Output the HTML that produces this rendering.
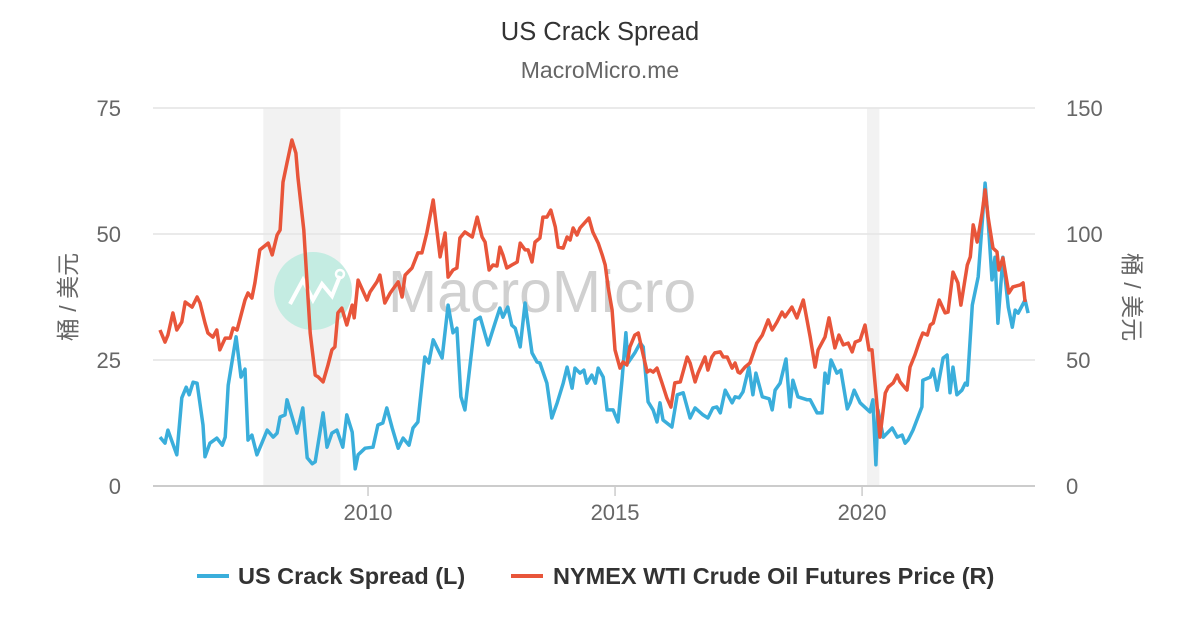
<!DOCTYPE html>
<html><head><meta charset="utf-8">
<style>
html,body{margin:0;padding:0;background:#fff;}
svg{display:block;font-family:"Liberation Sans","Noto Sans CJK SC",sans-serif;}
</style></head>
<body>
<svg id="chart" width="1200" height="630" viewBox="0 0 1200 630">
<rect x="0" y="0" width="1200" height="630" fill="#fff"/>
<text x="600" y="40" text-anchor="middle" font-size="25.5" fill="#333">US Crack Spread</text>
<text x="600" y="78" text-anchor="middle" font-size="23" fill="#666">MacroMicro.me</text>
<g id="bands"></g>
<g id="grid"></g>
<g opacity="1">
<circle cx="313" cy="291" r="39" fill="#c4ece2"/>
<path d="M290 304 L303 280 L313 300 L322 284 L332 296 L340 276" stroke="#fff" stroke-width="4" fill="none"/>
<circle cx="340" cy="274" r="4" fill="none" stroke="#fff" stroke-width="2.5"/>
<text x="388" y="312" font-size="59" fill="#d0d0d0">MacroMicro</text>
</g>
<g id="series"></g>
<g id="axes"></g>
<text transform="translate(76,297) rotate(-90)" text-anchor="middle" font-size="23" fill="#666">桶 / 美元</text>
<text transform="translate(1124,297) rotate(90)" text-anchor="middle" font-size="23" fill="#666">桶 / 美元</text>
<g>
<g>
<line x1="197" y1="576" x2="229" y2="576" stroke="#3aaedb" stroke-width="4"/>
<text x="238" y="584" font-size="23.5" font-weight="bold" fill="#333">US Crack Spread (L)</text>
</g>
<g>
<line x1="511" y1="576" x2="543" y2="576" stroke="#e8553a" stroke-width="4"/>
<text x="553" y="584" font-size="23.5" font-weight="bold" fill="#333">NYMEX WTI Crude Oil Futures Price (R)</text>
</g>
</g>
</svg>
<script>
const leftTicks=[0,25,50,75];
const rightTicks=[0,50,100,150];
const xTicks=[2010,2015,2020];
const recessionStarts=[2007.88,2020.1];
const recessionEnds=[2009.44,2020.35];
const crackYears=[2005.79,2005.89,2005.95,2006.13,2006.23,2006.32,2006.38,2006.46,2006.54,2006.66,2006.70,2006.80,2006.94,2007.05,2007.11,2007.17,2007.33,2007.43,2007.51,2007.57,2007.65,2007.75,2007.85,2007.96,2008.08,2008.16,2008.22,2008.32,2008.36,2008.56,2008.68,2008.77,2008.87,2008.93,2009.09,2009.17,2009.27,2009.37,2009.49,2009.57,2009.68,2009.74,2009.80,2009.94,2010.10,2010.20,2010.30,2010.38,2010.49,2010.61,2010.71,2010.83,2010.91,2011.01,2011.15,2011.23,2011.32,2011.50,2011.62,2011.72,2011.80,2011.88,2011.96,2012.17,2012.27,2012.43,2012.57,2012.67,2012.73,2012.83,2012.91,2012.98,2013.08,2013.18,2013.32,2013.42,2013.48,2013.62,2013.72,2013.83,2013.95,2014.03,2014.13,2014.19,2014.29,2014.37,2014.43,2014.53,2014.60,2014.66,2014.76,2014.84,2014.96,2015.06,2015.14,2015.22,2015.26,2015.40,2015.51,2015.57,2015.67,2015.77,2015.85,2015.91,2015.97,2016.15,2016.26,2016.38,2016.52,2016.62,2016.78,2016.88,2016.98,2017.06,2017.13,2017.23,2017.37,2017.43,2017.51,2017.59,2017.71,2017.79,2017.85,2017.98,2018.12,2018.18,2018.24,2018.34,2018.46,2018.54,2018.60,2018.70,2018.89,2018.95,2019.09,2019.19,2019.25,2019.31,2019.37,2019.49,2019.57,2019.70,2019.76,2019.84,2019.96,2020.16,2020.22,2020.28,2020.32,2020.43,2020.61,2020.71,2020.81,2020.87,2020.93,2021.03,2021.21,2021.23,2021.38,2021.44,2021.52,2021.64,2021.72,2021.78,2021.84,2021.92,2022.02,2022.09,2022.13,2022.23,2022.35,2022.49,2022.55,2022.63,2022.69,2022.75,2022.85,2022.96,2023.04,2023.10,2023.16,2023.30,2023.36];
const crackValues=[9.7,8.5,11.1,6.2,17.5,19.6,18.1,20.6,20.4,12.1,5.8,8.5,9.5,8.1,9.7,20.0,29.6,21.6,23.2,9.1,10.1,6.2,8.5,11.1,9.7,10.5,13.7,14.1,17.1,10.5,15.5,5.6,4.4,4.8,14.5,7.7,10.5,11.1,7.7,14.1,10.7,3.4,6.2,7.5,7.7,12.1,12.5,15.5,11.5,7.5,9.5,8.1,11.5,12.7,25.6,24.4,29.0,25.4,35.9,30.4,31.3,17.7,15.1,32.9,33.5,28.0,32.3,35.3,33.5,35.5,31.9,31.3,27.6,36.3,26.4,24.6,24.4,20.4,13.5,16.5,20.4,23.6,19.4,23.4,22.4,23.0,20.4,22.0,20.4,23.4,21.6,15.1,15.1,12.7,21.0,30.4,24.4,26.4,28.4,27.6,16.7,15.1,12.7,16.5,13.1,11.7,18.1,18.5,13.5,15.5,14.1,13.5,15.5,15.7,14.5,19.0,16.5,17.7,17.5,18.7,23.6,18.1,22.4,17.7,17.3,15.1,19.0,20.4,25.2,15.7,21.0,17.7,17.1,17.1,14.5,14.5,22.4,20.4,25.0,22.4,23.0,15.3,16.5,19.0,16.5,14.7,17.1,4.2,15.1,9.7,11.5,9.7,10.1,8.5,9.1,11.1,15.7,21.0,21.6,23.2,19.0,25.4,26.0,18.5,23.6,18.1,19.0,20.4,20.0,35.9,41.5,60.1,52.8,40.9,45.4,32.3,45.4,35.5,31.5,34.9,34.3,36.9,34.3];
const wtiYears=[2005.79,2005.89,2005.95,2006.05,2006.13,2006.23,2006.30,2006.44,2006.54,2006.60,2006.70,2006.76,2006.86,2006.94,2007.00,2007.11,2007.21,2007.27,2007.35,2007.51,2007.57,2007.65,2007.71,2007.81,2007.98,2008.06,2008.16,2008.22,2008.28,2008.36,2008.46,2008.54,2008.58,2008.70,2008.83,2008.93,2008.99,2009.09,2009.19,2009.27,2009.33,2009.39,2009.47,2009.57,2009.68,2009.72,2009.80,2009.98,2010.04,2010.18,2010.24,2010.34,2010.45,2010.61,2010.69,2010.75,2010.89,2011.01,2011.09,2011.19,2011.32,2011.46,2011.56,2011.62,2011.72,2011.80,2011.86,2011.96,2012.11,2012.21,2012.31,2012.37,2012.45,2012.53,2012.61,2012.67,2012.73,2012.81,2012.91,2013.02,2013.08,2013.18,2013.24,2013.32,2013.38,2013.48,2013.54,2013.62,2013.70,2013.79,2013.85,2013.95,2014.03,2014.09,2014.15,2014.23,2014.29,2014.47,2014.55,2014.66,2014.74,2014.80,2014.86,2014.94,2015.00,2015.10,2015.16,2015.24,2015.30,2015.40,2015.47,2015.57,2015.65,2015.71,2015.77,2015.85,2015.95,2016.05,2016.13,2016.21,2016.32,2016.46,2016.52,2016.62,2016.68,2016.82,2016.88,2016.96,2017.02,2017.13,2017.19,2017.27,2017.37,2017.43,2017.49,2017.53,2017.63,2017.73,2017.87,2017.98,2018.10,2018.18,2018.28,2018.38,2018.44,2018.58,2018.68,2018.81,2018.95,2019.05,2019.11,2019.25,2019.33,2019.45,2019.53,2019.62,2019.72,2019.80,2019.86,2019.96,2020.06,2020.14,2020.20,2020.36,2020.47,2020.53,2020.63,2020.71,2020.77,2020.87,2020.91,2020.97,2021.07,2021.17,2021.23,2021.32,2021.38,2021.44,2021.56,2021.68,2021.74,2021.84,2021.94,2022.00,2022.13,2022.19,2022.25,2022.33,2022.43,2022.49,2022.55,2022.65,2022.73,2022.77,2022.85,2022.97,2023.05,2023.20,2023.26,2023.30];
const wtiValues=[61.9,57.1,59.9,68.7,61.9,65.1,73.0,71.0,75.0,72.6,64.7,60.7,59.1,61.9,54.0,58.7,58.7,62.7,61.9,73.8,76.6,74.6,80.6,93.7,96.4,91.7,99.6,101.6,120.6,128.2,137.3,132.1,122.6,101.6,60.7,44.0,43.3,41.3,48.0,54.0,55.2,68.7,70.6,63.9,71.8,66.7,81.7,73.8,77.0,81.0,83.7,72.6,76.6,81.0,75.0,83.7,86.5,92.5,92.5,100.4,113.5,90.9,100.4,82.9,85.7,86.5,98.4,100.8,98.8,106.7,98.8,96.8,85.7,87.7,87.3,94.8,91.7,86.5,87.7,88.9,96.4,93.7,93.7,88.9,96.8,98.4,106.7,106.7,109.5,102.8,94.8,94.4,98.8,97.6,102.4,99.6,102.4,106.3,100.8,96.4,91.7,87.7,79.0,69.8,54.0,46.8,49.2,48.0,55.2,59.9,60.7,52.0,45.2,46.0,45.2,46.8,40.9,34.9,31.3,40.9,41.3,51.2,48.8,41.3,44.8,51.2,46.0,51.2,52.8,53.2,51.2,51.2,46.8,48.8,45.2,44.8,47.2,48.8,56.7,59.9,65.9,61.9,65.1,69.0,67.1,71.0,66.7,73.8,59.1,47.2,54.0,59.1,66.7,54.8,59.9,56.0,56.7,53.2,57.1,57.9,63.9,54.0,54.0,19.4,36.9,39.3,40.9,44.0,41.3,38.9,38.1,47.2,52.0,57.9,60.7,59.9,63.9,64.7,73.8,68.7,69.0,84.9,80.6,71.8,87.7,90.9,103.6,96.8,108.3,117.5,106.7,94.4,92.9,85.7,90.5,76.6,79.0,79.8,80.6,73.0];

const NS='http://www.w3.org/2000/svg';
const X0=153,X1=1035,Y0=486,Y1=108;
const xMin=2005.648,xMax=2023.5;
function xs(v){return X0+(v-xMin)/(xMax-xMin)*(X1-X0);}
function yl(v){return Y0-(v/75)*(Y0-Y1);}
function yr(v){return Y0-(v/150)*(Y0-Y1);}
function mk(tag,attrs,parent){const e=document.createElementNS(NS,tag);for(const k in attrs)e.setAttribute(k,attrs[k]);parent.appendChild(e);return e;}

const bands=document.getElementById('bands');
for(let i=0;i<recessionStarts.length;i++){
  const r=mk('rect',{x:xs(recessionStarts[i]),y:Y1,width:xs(recessionEnds[i])-xs(recessionStarts[i]),height:Y0-Y1,fill:'#f2f2f2'},bands);
  
  
}
const grid=document.getElementById('grid');
const axes=document.getElementById('axes');
for(let i=0;i<leftTicks.length;i++){
  const y=yl(leftTicks[i]);
  const g=mk('line',{x1:X0,x2:X1,y1:y,y2:y,stroke:i===0?'#ccc':'#e4e4e4','stroke-width':i===0?2:1.5},grid);
  
  
  const t=mk('text',{x:121,y:y+8,'text-anchor':'end','font-size':22,fill:'#666'},axes);
  t.textContent=leftTicks[i];
  
  
}
for(let i=0;i<rightTicks.length;i++){
  const y=yr(rightTicks[i]);
  const t=mk('text',{x:1066,y:y+8,'text-anchor':'start','font-size':22,fill:'#666'},axes);
  t.textContent=rightTicks[i];
  
  
}
for(let i=0;i<xTicks.length;i++){
  const x=xs(xTicks[i]);
  const tk=mk('line',{x1:x,x2:x,y1:Y0,y2:Y0+10,stroke:'#ccc','stroke-width':1.5},axes);
  
  
  const t=mk('text',{x:x,y:Y0+34,'text-anchor':'middle','font-size':22,fill:'#666'},axes);
  t.textContent=xTicks[i];
  
  
}
const series=document.getElementById('series');
function line(years,vals,ys,color,name){
  let d='';
  for(let i=0;i<years.length;i++)d+=(i?'L':'M')+xs(years[i]).toFixed(1)+' '+ys(vals[i]).toFixed(1);
  const p=mk('path',{d:d,fill:'none',stroke:color,'stroke-width':3.5,'stroke-linejoin':'round'},series);
  
  
}
line(crackYears,crackValues,yl,'#3aaedb','crack-spread-line');
line(wtiYears,wtiValues,yr,'#e8553a','wti-price-line');
</script>
</body></html>
